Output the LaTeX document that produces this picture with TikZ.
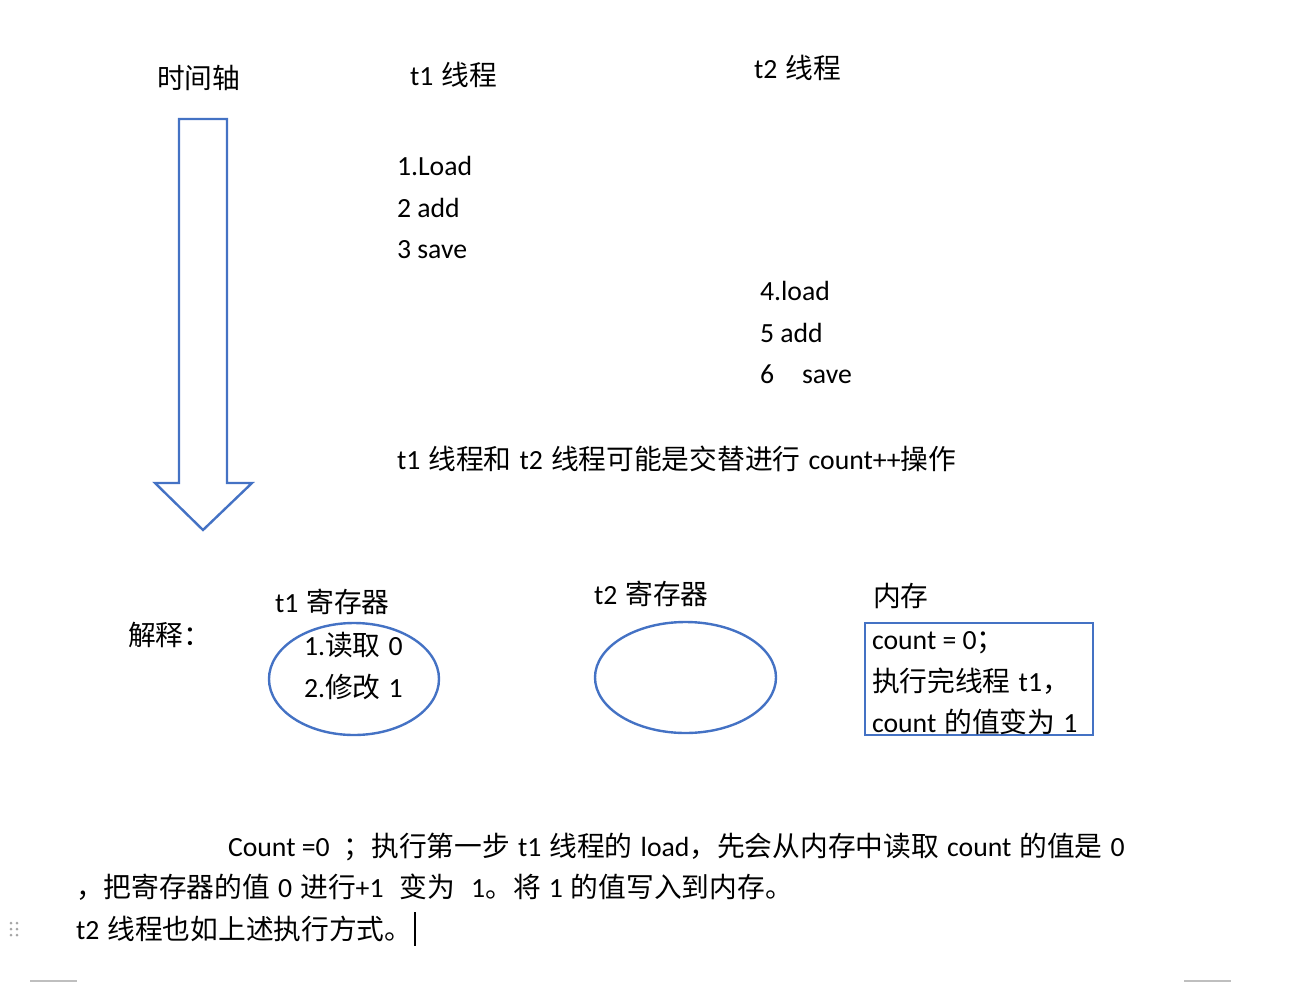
\documentclass[tikz,border=0pt]{standalone}
\usepackage{fontspec}
\setmainfont{Carlito}
\newfontfamily\cjk{Noto Sans CJK SC}
\newcommand\zh[1]{{\cjk #1}}
\newcommand\gap{\hspace{0.29em}}
\usetikzlibrary{shapes.geometric}
\definecolor{officeblue}{HTML}{4472C4}
\tikzset{
  txt/.style={anchor=base west, inner sep=0pt, outer sep=0pt, font=\fontsize{20.8}{25}\selectfont},
  blueline/.style={draw=officeblue, line width=1.8pt},
  regell/.style={blueline, ellipse, inner sep=0pt},
}
\begin{document}
\begin{tikzpicture}[x=0.75pt, y=-0.75pt]
\useasboundingbox (0,0) rectangle (1289,982);
% headers
\node[txt] (tl) at (157,88) {\zh{时间轴}};
\node[txt] (t1h) at (410,85) {t1\gap\zh{线程}};
\node[txt] (t2h) at (754,78) {t2\gap\zh{线程}};
% steps
\node[txt] (s1) at (397,175) {1.Load};
\node[txt] (s2) at (397,217) {2 add};
\node[txt] (s3) at (397,258) {3 save};
\node[txt] (s4) at (760,300) {4.load};
\node[txt] (s5) at (760,342) {5 add};
\node[txt] (s6) at (760,383) {6\hspace{21pt}save};
\node[txt] (alt) at (397,469) {t1\gap\zh{线程和}\gap t2\gap\zh{线程可能是交替进行}\gap count++\zh{操作}};
% time arrow
\draw[blueline, line join=miter] (179,119) -- (227,119) -- (227,483) -- (252,483) -- (203,530) -- (155,483) -- (179,483) -- cycle;
% explanation
\node[txt] (expl) at (128,645) {\zh{解释：}};
\node[txt] (r1l) at (275,612) {t1\gap\zh{寄存器}};
\node[regell, minimum width=127.5pt, minimum height=84pt] (e1) at (354,679) {};
\node[txt] (r1a) at (304,655) {1.\zh{读取}\gap 0};
\node[txt] (r1b) at (304,697) {2.\zh{修改}\gap 1};
\node[txt] (r2l) at (594,604) {t2\gap\zh{寄存器}};
\node[regell, minimum width=135.75pt, minimum height=83.25pt] (e2) at (685.5,677.5) {};
\node[txt] (meml) at (873,606) {\zh{内存}};
\node[blueline, rectangle, inner sep=0pt, minimum width=171pt, minimum height=84pt] (mem) at (979,679) {};
\node[txt] (m1) at (872,649) {count = 0\zh{；}};
\node[txt] (m2) at (872,691) {\zh{执行完线程}\gap t1\zh{，}};
\node[txt] (m3) at (872,732) {count\gap\zh{的值变为}\gap 1};
% bottom paragraph
\node[txt] (b1) at (228,856) {Count =0\hspace{0.5em}\zh{；执行第一步}\gap t1\gap\zh{线程的}\gap load\zh{，先会从内存中读取}\gap count\gap\zh{的值是}\gap 0};
\node[txt] (b2) at (76,897) {\zh{，把寄存器的值}\gap 0\gap\zh{进行}+1\gap\gap\zh{变为}\gap\gap 1\zh{。将}\gap 1\gap\zh{的值写入到内存。}};
\node[txt] (b3) at (76,939) {t2\gap\zh{线程也如上述执行方式。}};
% cursor
\draw[line width=0.9pt] (415,912) -- (415,946);
% drag handle dots
\foreach \dx in {11,17} \foreach \dy in {923,929,935}
  \fill[gray!70] (\dx,\dy) circle [radius=1.5];
% page marks
\draw[gray!50, line width=1pt] (30,981) -- (77,981);
\draw[gray!50, line width=1pt] (1184,981) -- (1231,981);
\end{tikzpicture}
\end{document}
